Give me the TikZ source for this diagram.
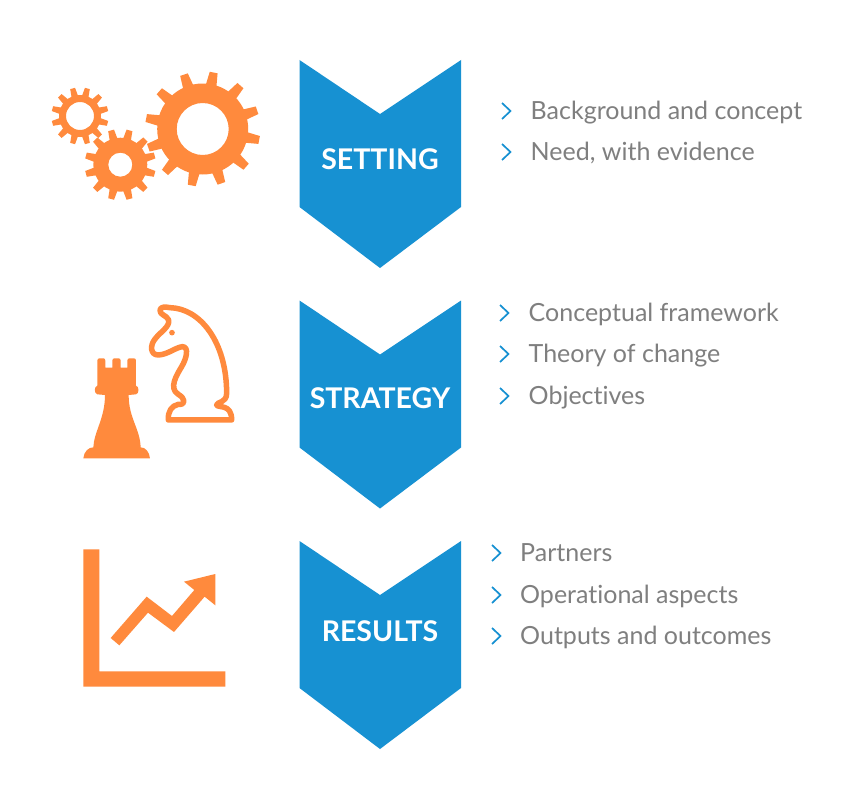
\documentclass[tikz,border=0pt]{standalone}
\usepackage{fontspec}
\setmainfont[Ligatures=NoCommon]{Lato}
\definecolor{chevblue}{HTML}{1791D2}
\definecolor{iconorange}{HTML}{FF8A3D}
\definecolor{txtgrey}{HTML}{7F7F7F}
\tikzset{
  chev/.style={fill=chevblue,draw=none},
  icon/.style={fill=iconorange,draw=none},
  title/.style={text=white,font=\fontsize{28.5}{28.5}\selectfont\bfseries,anchor=base,inner sep=0pt},
  item/.style={text=txtgrey,font=\fontsize{25}{25}\selectfont,anchor=base west,inner sep=0pt},
  tick/.style={draw=chevblue,line width=1.7pt,fill=none,line cap=butt,line join=miter}
}
\newcommand{\gearshape}[7]{% cx cy hole body outer width offset
  \fill[icon,even odd rule] (#1,#2) circle[radius=#4]
    (#1,#2) circle[radius=#3];
  \foreach \k in {0,...,11}{
    \pgfmathsetmacro{\ang}{#7+30*\k}
    \fill[icon,shift={(#1,#2)},rotate=-\ang]
      (#4-2,-#6*0.68) -- (#5,-#6*0.5) -- (#5,#6*0.5) -- (#4-2,#6*0.68) -- cycle;
  }
}
\newcommand{\chevron}[1]{%
  \fill[chev,shift={(0,#1)}] (299.5,60) -- (380,114) -- (461,60) -- (461,207) -- (380,268) -- (299.5,207) -- cycle;}
\newcommand{\ticks}[2]{%
  \draw[tick,shift={(#1,#2)}] (0,-8) -- (8.5,0) -- (0,8);}
\begin{document}
\begin{tikzpicture}[x=1pt,y=-1pt]
\useasboundingbox (0,0) rectangle (867,800);
\fill[white] (0,0) rectangle (867,800);
% gears
\gearshape{202.7}{129}{26}{45.5}{57.5}{8}{-79}
\gearshape{120.3}{164.7}{12}{27}{35.5}{6}{-75}
\gearshape{80}{116}{14}{21}{28.5}{5}{-75}
% chevrons
\chevron{0}
\chevron{240.5}
\chevron{481}
\node[title] (t1) at (380,169) {SETTING};
\node[title] (t2) at (380,408.5) {STRATEGY};
\node[title] (t3) at (380,641.5) {RESULTS};
% rook
\begin{scope}[shift={(70,295)},x=0.3333pt,y=-0.3333pt]
\fill[icon] (40,490) .. controls (42,470) and (55,457) .. (70,457)
  .. controls (72,410) and (105,370) .. (105,300)
  -- (82,298) .. controls (72,296) and (72,274) .. (82,272)
  -- (82,197) .. controls (82,192) and (85,190) .. (88,190) -- (100,190)
  .. controls (103,190) and (106,192) .. (106,197) -- (106,218) -- (127,218) -- (127,197)
  .. controls (127,192) and (130,190) .. (133,190) -- (146,190)
  .. controls (149,190) and (152,192) .. (152,197) -- (152,218) -- (172,218) -- (172,197)
  .. controls (172,192) and (175,190) .. (178,190) -- (192,190)
  .. controls (195,190) and (198,192) .. (198,197)
  -- (198,272) .. controls (208,274) and (208,296) .. (198,298) -- (176,300)
  .. controls (176,370) and (210,400) .. (212,457)
  .. controls (226,457) and (238,470) .. (240,490) -- cycle;
% knight
\draw[iconorange,line width=5.5pt,line join=round,line cap=round]
  (295,375) .. controls (293,350) and (305,332) .. (325,328)
  .. controls (350,330) and (345,310) .. (325,298)
  .. controls (295,280) and (320,240) .. (335,215)
  .. controls (350,190) and (358,155) .. (337,155)
  .. controls (315,158) and (295,178) .. (265,180)
  .. controls (240,180) and (240,150) .. (255,132)
  .. controls (272,110) and (300,95) .. (296,75)
  .. controls (290,60) and (268,60) .. (270,45)
  .. controls (272,35) and (285,35) .. (300,38)
  .. controls (390,40) and (470,140) .. (470,295)
  .. controls (470,325) and (440,320) .. (440,330)
  .. controls (445,340) and (485,325) .. (485,375) -- cycle;
\fill[icon] (306,113) circle[radius=8.5];
\end{scope}
% chart
\begin{scope}[shift={(70,540)},x=0.3333pt,y=-0.3333pt]
\fill[icon] (40,28) -- (88,28) -- (88,394) -- (466,394) -- (466,440) -- (40,440) -- cycle;
\fill[icon] (122,294) -- (230,170) -- (306,228) -- (373,150) -- (342,125) -- (436,102)
  -- (436,196) -- (404,170) -- (312,276) -- (234,218) -- (148,316) -- cycle;
\end{scope}
% lists
\ticks{502}{111}
\ticks{502}{152}
\node[item] (a1) at (530.5,119) {Background and concept};
\node[item] (a2) at (530.5,160) {Need, with evidence};
\ticks{500}{313}
\ticks{500}{354}
\ticks{500}{396}
\node[item] (b1) at (528.5,321) {Conceptual framework};
\node[item] (b2) at (528.5,362) {Theory of change};
\node[item] (b3) at (528.5,404) {Objectives};
\ticks{492}{553}
\ticks{492}{595}
\ticks{492}{636}
\node[item] (c1) at (520,561) {Partners};
\node[item] (c2) at (520,603) {Operational aspects};
\node[item] (c3) at (520,644) {Outputs and outcomes};
\end{tikzpicture}
\end{document}
